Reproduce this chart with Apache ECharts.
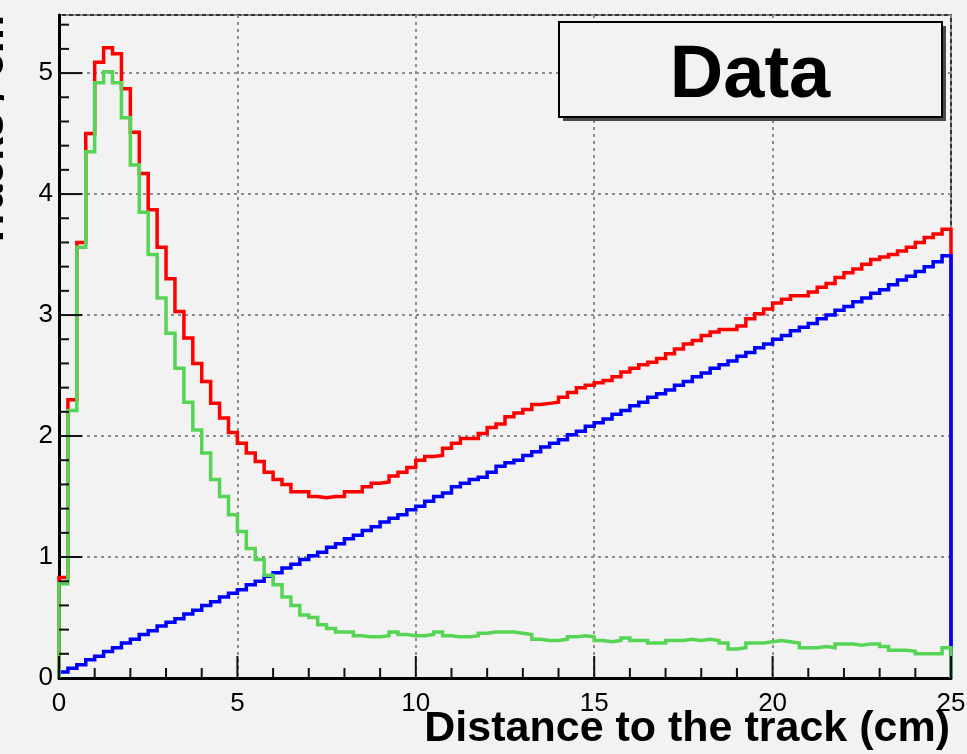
<!DOCTYPE html>
<html>
<head>
<meta charset="utf-8">
<script src="https://cdn.jsdelivr.net/npm/echarts@6/dist/echarts.min.js"></script>
<style>
  html, body { margin: 0; padding: 0; background: #f2f2f2; }
  #chart { width: 967px; height: 754px; }
</style>
</head>
<body>
<div id="chart"></div>
<script>
// Histogram binning: 100 bins of 0.25 cm between 0 and 25 cm
const BIN_WIDTH = 0.25;
const X_MIN = 0;
const X_MAX = 25;
const Y_MAX = 5.48;

const xTicks = [0, 5, 10, 15, 20, 25];
const yTicks = [0, 1, 2, 3, 4, 5];
const X_MINOR_PER_MAJOR = 5;
const Y_MINOR_PER_MAJOR = 5;

// Total (red)
const totalCounts = [
  0.83, 2.30, 3.60, 4.50, 5.09, 5.21, 5.16, 4.87, 4.51, 4.17,
  3.87, 3.56, 3.30, 3.03, 2.81, 2.60, 2.45, 2.27, 2.15, 2.03,
  1.94, 1.86, 1.79, 1.70, 1.64, 1.60, 1.54, 1.54, 1.50, 1.49,
  1.50, 1.50, 1.54, 1.54, 1.58, 1.61, 1.62, 1.67, 1.70, 1.74,
  1.80, 1.83, 1.84, 1.90, 1.94, 1.98, 1.98, 2.02, 2.07, 2.10,
  2.16, 2.19, 2.22, 2.26, 2.27, 2.28, 2.32, 2.36, 2.40, 2.42,
  2.44, 2.46, 2.49, 2.53, 2.56, 2.59, 2.61, 2.64, 2.68, 2.72,
  2.76, 2.79, 2.83, 2.86, 2.88, 2.88, 2.91, 2.97, 3.01, 3.05,
  3.10, 3.13, 3.16, 3.16, 3.19, 3.23, 3.26, 3.31, 3.35, 3.38,
  3.42, 3.46, 3.48, 3.50, 3.53, 3.56, 3.60, 3.64, 3.67, 3.71
];

// Signal (green)
const signalCounts = [
  0.78, 2.21, 3.56, 4.35, 4.92, 5.01, 4.92, 4.63, 4.24, 3.85,
  3.50, 3.14, 2.85, 2.56, 2.28, 2.05, 1.86, 1.64, 1.50, 1.35,
  1.21, 1.07, 0.98, 0.85, 0.77, 0.67, 0.60, 0.52, 0.50, 0.44,
  0.41, 0.38, 0.38, 0.35, 0.34, 0.34, 0.35, 0.38, 0.36, 0.35,
  0.35, 0.36, 0.38, 0.35, 0.34, 0.34, 0.35, 0.37, 0.38, 0.38,
  0.38, 0.37, 0.36, 0.32, 0.31, 0.31, 0.32, 0.34, 0.35, 0.34,
  0.31, 0.30, 0.31, 0.33, 0.31, 0.31, 0.29, 0.29, 0.31, 0.31,
  0.32, 0.31, 0.32, 0.31, 0.29, 0.24, 0.25, 0.29, 0.29, 0.30,
  0.31, 0.30, 0.29, 0.25, 0.25, 0.26, 0.25, 0.28, 0.28, 0.27,
  0.28, 0.28, 0.26, 0.23, 0.23, 0.22, 0.20, 0.20, 0.20, 0.25
];

// Background (blue)
const backgroundCounts = [
  0.05, 0.08, 0.11, 0.15, 0.18, 0.22, 0.25, 0.29, 0.32, 0.36,
  0.39, 0.43, 0.46, 0.49, 0.53, 0.56, 0.60, 0.63, 0.67, 0.70,
  0.73, 0.77, 0.80, 0.84, 0.87, 0.91, 0.94, 0.98, 1.01, 1.04,
  1.08, 1.11, 1.15, 1.18, 1.22, 1.25, 1.29, 1.32, 1.35, 1.39,
  1.42, 1.46, 1.50, 1.53, 1.58, 1.61, 1.64, 1.66, 1.70, 1.75,
  1.78, 1.80, 1.84, 1.87, 1.91, 1.94, 1.97, 2.01, 2.04, 2.08,
  2.11, 2.14, 2.18, 2.21, 2.25, 2.28, 2.32, 2.35, 2.38, 2.42,
  2.45, 2.49, 2.52, 2.56, 2.59, 2.62, 2.66, 2.69, 2.73, 2.76,
  2.80, 2.83, 2.87, 2.90, 2.93, 2.97, 3.00, 3.04, 3.07, 3.11,
  3.14, 3.18, 3.21, 3.25, 3.29, 3.32, 3.36, 3.40, 3.44, 3.49
];

// Turn bin contents into an outline: each point sits on a bin's low edge,
// the 'end' step carries its level across to the next edge.
function histogramOutline(values) {
  const pts = [[X_MIN, 0]];
  values.forEach((v, k) => pts.push([X_MIN + k * BIN_WIDTH, v]));
  const hi = X_MIN + values.length * BIN_WIDTH;
  pts.push([hi, values[values.length - 1]]);
  pts.push([hi, 0]);
  return pts;
}

// Inward tick marks (major + minor) for both axes: [x, y, length, axis]
function tickMarks() {
  const marks = [];
  const xStep = (xTicks[1] - xTicks[0]) / X_MINOR_PER_MAJOR;
  const xCount = Math.round((X_MAX - X_MIN) / xStep);
  for (let i = 0; i <= xCount; i++) {
    const major = i % X_MINOR_PER_MAJOR === 0;
    marks.push([X_MIN + i * xStep, 0, major ? 22 : 10, 0]);
  }
  const yStep = (yTicks[1] - yTicks[0]) / Y_MINOR_PER_MAJOR;
  for (let j = 1; j * yStep < Y_MAX - 1e-9; j++) {
    const major = j % Y_MINOR_PER_MAJOR === 0;
    marks.push([X_MIN, +(j * yStep).toFixed(4), major ? 23 : 10, 1]);
  }
  return marks;
}

const FONT = '"Liberation Sans", Arial, Helvetica, sans-serif';

function histSeries(name, values, color) {
  return {
    name: name,
    type: 'line',
    step: 'end',
    data: histogramOutline(values),
    showSymbol: false,
    symbol: 'none',
    clip: false,
    lineStyle: { color: color, width: 3.5, cap: 'butt', join: 'miter' },
    emphasis: { disabled: true },
    animation: false
  };
}

const chart = echarts.init(document.getElementById('chart'), null, { renderer: 'canvas' });

chart.setOption({
  backgroundColor: '#f2f2f2',
  animation: false,
  grid: {
    left: 59, right: 16, top: 15, bottom: 76,
    containLabel: false,
    outerBoundsMode: 'none',
    show: true,
    borderColor: '#333',
    borderWidth: 2,
    backgroundColor: 'transparent'
  },
  xAxis: {
    type: 'value',
    min: xTicks[0],
    max: xTicks[xTicks.length - 1],
    interval: xTicks[1] - xTicks[0],
    axisLine: { show: true, onZero: false, lineStyle: { color: '#000', width: 3 } },
    axisTick: { show: false },
    minorTick: { show: false },
    splitLine: { show: true, lineStyle: { color: '#8c8c8c', width: 2, type: [3, 4] } },
    axisLabel: { show: true, fontSize: 26, color: '#000', margin: 13, fontFamily: FONT }
  },
  yAxis: {
    type: 'value',
    min: yTicks[0],
    max: Y_MAX,
    interval: yTicks[1] - yTicks[0],
    axisLine: { show: true, onZero: false, lineStyle: { color: '#000', width: 3 } },
    axisTick: { show: false },
    minorTick: { show: false },
    splitLine: { show: true, lineStyle: { color: '#8c8c8c', width: 2, type: [3, 4] } },
    axisLabel: {
      show: true, fontSize: 26, color: '#000', margin: 6, fontFamily: FONT,
      showMaxLabel: false,
      formatter: v => (yTicks.indexOf(v) >= 0 ? String(v) : '')
    }
  },
  series: [
    histSeries('Total', totalCounts, '#ff0000'),
    histSeries('Background', backgroundCounts, '#0000ff'),
    histSeries('Signal', signalCounts, '#55d455'),
    {
      name: 'ticks',
      type: 'custom',
      silent: true,
      clip: false,
      z: 5,
      animation: false,
      data: tickMarks(),
      encode: { x: 0, y: 1 },
      renderItem: function (params, api) {
        const p = api.coord([api.value(0), api.value(1)]);
        const len = api.value(2);
        const onX = api.value(3) === 0;
        return {
          type: 'line',
          shape: onX
            ? { x1: p[0], y1: p[1], x2: p[0], y2: p[1] - len }
            : { x1: p[0], y1: p[1], x2: p[0] + len, y2: p[1] },
          style: { stroke: '#111', lineWidth: 2 }
        };
      }
    }
  ],
  graphic: [
    // "Data" label box with its drop shadow
    {
      type: 'rect', z: 100,
      shape: { x: 563, y: 26, width: 383, height: 95 },
      style: { fill: '#4a4a4a' }
    },
    {
      type: 'rect', z: 101,
      shape: { x: 559, y: 22, width: 383, height: 95 },
      style: { fill: '#f2f2f2', stroke: '#000', lineWidth: 2 }
    },
    {
      type: 'text', z: 102, x: 750, y: 77,
      style: {
        text: 'Data', fill: '#000',
        fontSize: 74, fontWeight: 'bold', fontFamily: FONT,
        align: 'center', verticalAlign: 'middle'
      }
    },
    // Axis titles
    {
      type: 'text', z: 102, x: 950, y: 729,
      style: {
        text: 'Distance to the track (cm)', fill: '#000',
        fontSize: 43, fontWeight: 'bold', fontFamily: FONT,
        align: 'right', verticalAlign: 'middle'
      }
    },
    {
      type: 'text', z: 102, x: -9, y: 15, rotation: Math.PI / 2,
      style: {
        text: 'Tracks / cm', fill: '#000',
        fontSize: 43, fontWeight: 'bold', fontFamily: FONT,
        align: 'right', verticalAlign: 'middle'
      }
    }
  ]
});
</script>
</body>
</html>
